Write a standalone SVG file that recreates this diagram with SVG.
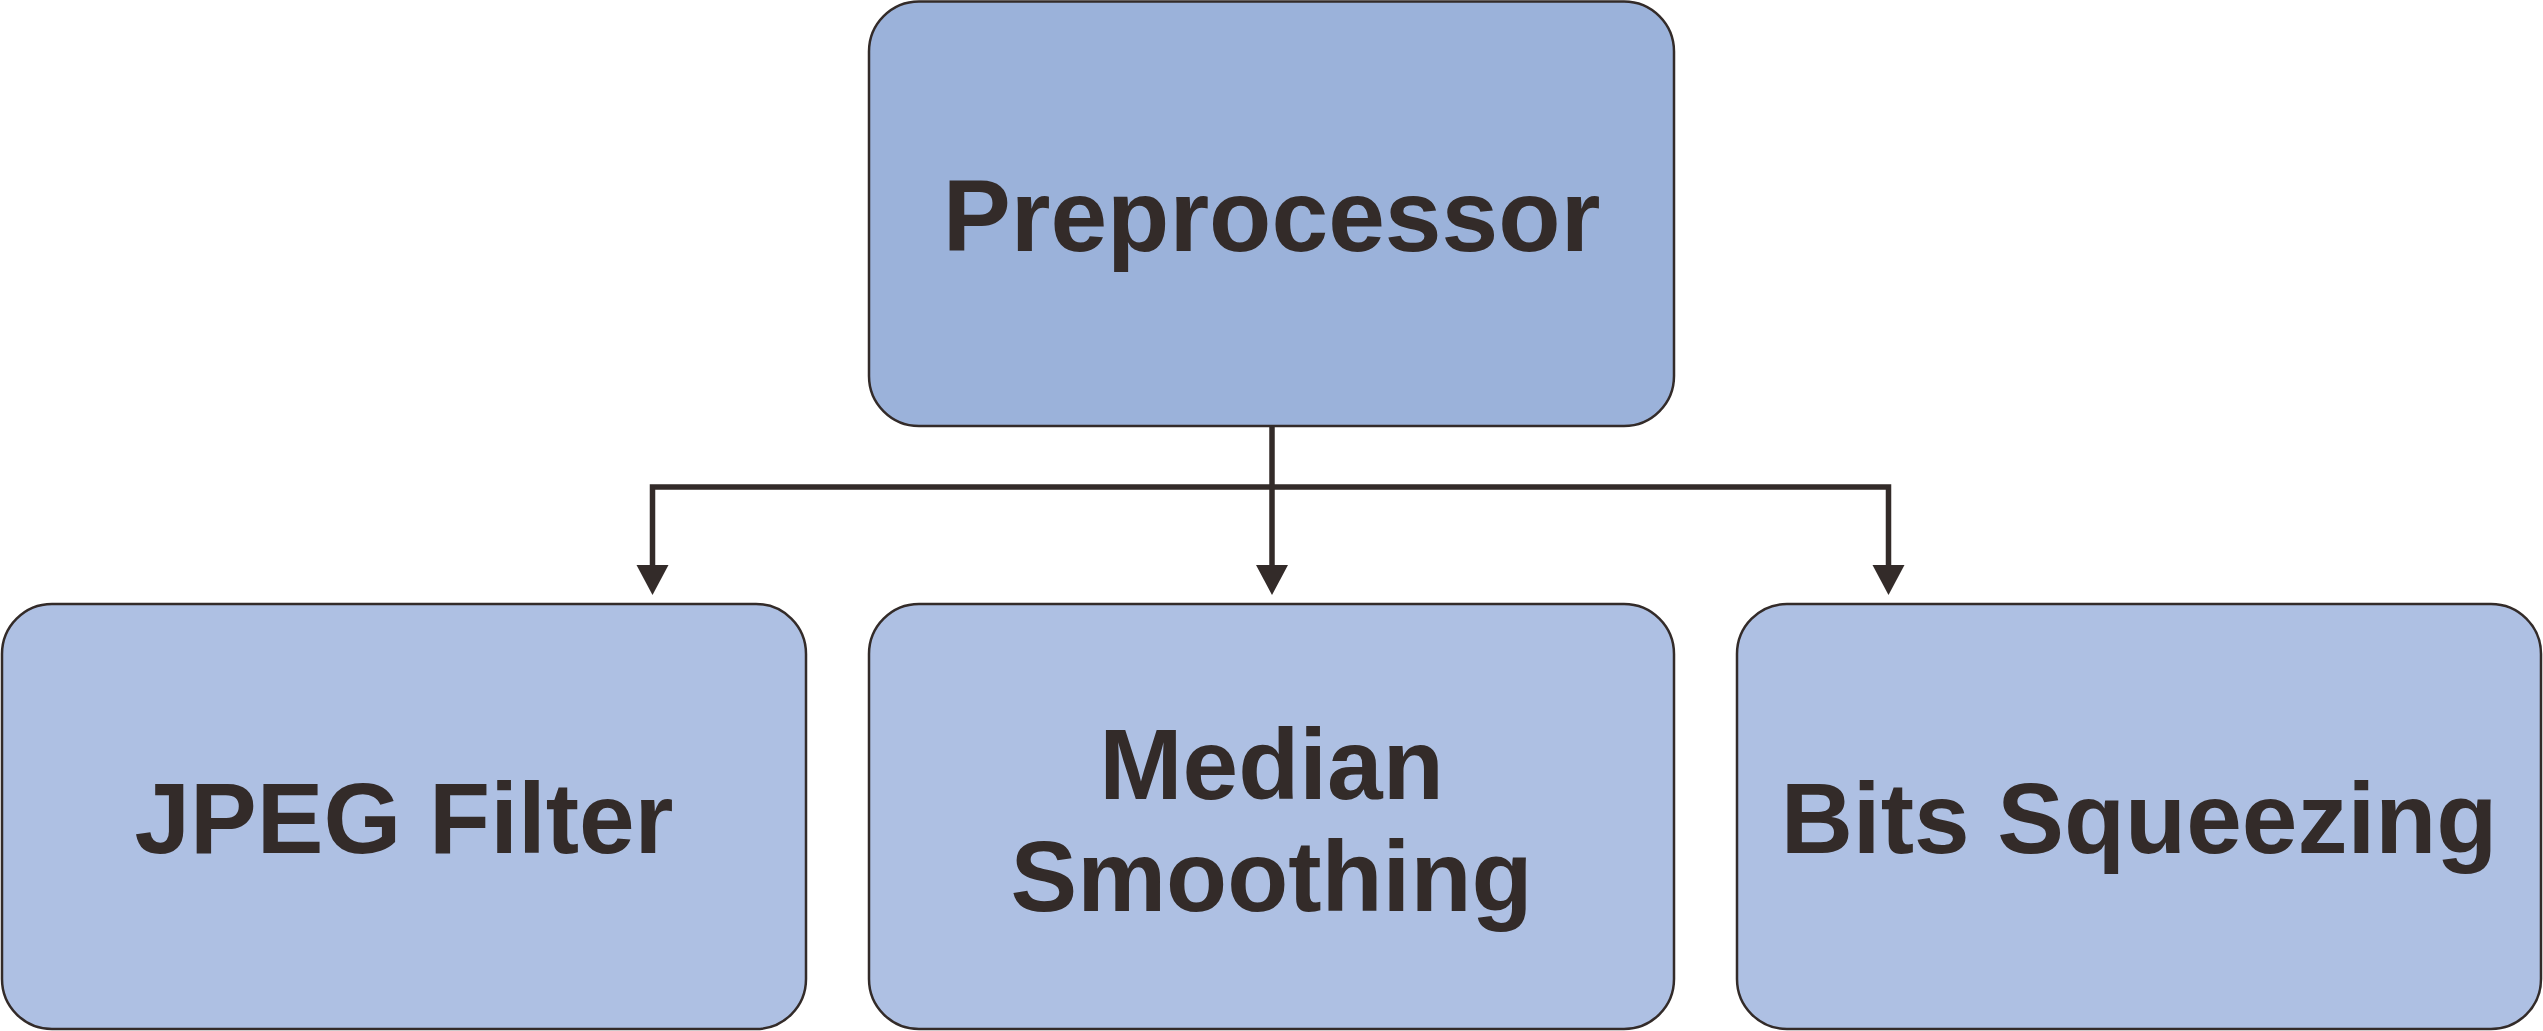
<svg xmlns="http://www.w3.org/2000/svg" width="2543" height="1031" viewBox="0 0 2543 1031">
<style>
.box{stroke:#332b29;stroke-width:2.5}
.top{fill:#9bb2da}
.child{fill:#aec0e3}
.lbl{font-family:"Liberation Sans",Arial,sans-serif;font-weight:bold;fill:#332b29;text-anchor:middle}
.conn{fill:none;stroke:#332b29;stroke-width:5.5}
.head{fill:#332b29}
</style>
<rect width="2543" height="1031" fill="#ffffff"/>
<g id="connectors">
<path class="conn" d="M1272,426 V567"/>
<path class="conn" d="M652.5,567 V487 H1888.5 V567"/>
<polygon class="head" points="636.5,565 668.5,565 652.5,595"/>
<polygon class="head" points="1256,565 1288,565 1272,595"/>
<polygon class="head" points="1872.5,565 1904.5,565 1888.5,595"/>
</g>
<g id="preprocessor">
<rect class="box top" x="869" y="1.5" width="805" height="424.5" rx="50" ry="50"/>
<text class="lbl" x="1271.5" y="251" font-size="102">Preprocessor</text>
</g>
<g id="jpeg-filter">
<rect class="box child" x="2" y="604" width="804" height="425" rx="50" ry="50"/>
<text class="lbl" x="404" y="853" font-size="100">JPEG Filter</text>
</g>
<g id="median-smoothing">
<rect class="box child" x="869" y="604" width="805" height="425" rx="50" ry="50"/>
<text class="lbl" x="1271.5" y="799" font-size="100">Median</text>
<text class="lbl" x="1271.5" y="911" font-size="100">Smoothing</text>
</g>
<g id="bits-squeezing">
<rect class="box child" x="1737" y="604" width="804" height="425" rx="50" ry="50"/>
<text class="lbl" x="2139" y="853" font-size="100">Bits Squeezing</text>
</g>
</svg>
